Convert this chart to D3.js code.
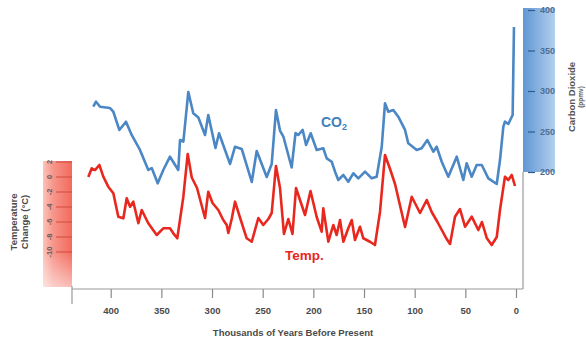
<!DOCTYPE html>
<html><head><meta charset="utf-8">
<script src="https://cdn.jsdelivr.net/npm/d3@7"></script>
<style>
html,body{margin:0;padding:0;background:#fff;}
svg{display:block;font-family:"Liberation Sans",Arial,sans-serif;}
</style></head>
<body>
<svg id="c" width="586" height="341"></svg>
<script>
// thousands of years before present, CO2 ppmv
const co2Years = [417.2,414.5,410.5,400.7,397.4,391.5,384.9,379.3,371.1,362.9,359.5,353.6,348.1,341.5,333.3,331.6,328.3,323.4,318.5,313.5,306.9,303.7,296.6,293.1,282.2,277.3,270.7,260.8,255.9,246.0,241.1,236.9,232.9,229.6,221.4,217.6,214.8,210.5,207.2,202.6,196.7,190.2,186.8,181.9,178.6,175.4,170.4,165.5,160.6,155.6,149.0,142.4,137.5,132.5,129.3,126.0,121.1,116.2,109.5,106.3,98.0,93.1,87.5,81.6,78.3,73.3,66.8,58.5,52.0,48.7,43.7,38.8,33.8,27.3,19.0,15.8,12.5,10.9,7.6,3.3,2.0];
const co2Values = [280.6,286.8,280.6,279,274.4,251.9,262.1,245.7,227.2,202.5,204.9,186,202.5,218.9,202.5,239.5,237.4,298.8,272.5,267.3,245.7,270.4,229.6,247.8,209.9,231.2,228.4,187.7,225.9,193.8,209.9,276.5,251.2,243.8,205.6,248.1,245.7,251.9,233.3,247.8,227.2,229.3,216.9,212.7,200.4,190.1,196.3,188,198.4,192.2,200.4,192.2,194.2,231.2,284.8,274.4,276.5,268.3,251.9,235.4,227.2,229.3,239.5,225.1,231.2,212.7,194.2,218.9,190.1,210.7,194.2,208.6,208.6,192.2,185.2,214.8,255.9,262.1,259.3,270.4,379];
// thousands of years before present, temperature change °C
const tempYears = [422.1,418.7,415.5,411.2,407.3,402.4,397.4,392.5,387.5,384.2,380.9,377.7,372.7,369.4,362.9,354.6,348.1,341.5,338.2,334.3,328.3,324.0,320.0,314.8,306.9,303.7,299.5,293.8,288.9,285.5,283.9,280.6,277.3,272.4,265.8,260.8,254.3,249.4,244.4,241.1,236.9,232.9,229.0,224.7,220.6,217.1,213.2,208.2,202.8,196.7,191.8,190.2,185.2,180.3,177.0,173.7,170.4,165.5,162.1,158.9,154.0,150.7,144.1,139.2,134.2,129.3,124.3,119.4,109.5,102.9,94.7,88.1,83.2,77.5,68.4,65.1,60.2,55.3,50.3,43.7,37.2,33.6,28.9,24.0,19.0,15.8,10.9,7.6,4.2,1.0];
const tempValues = [0.0,1.16,0.93,1.6,0.04,-1.29,-2.17,-5.29,-5.51,-2.84,-3.96,-3.29,-6.17,-4.4,-6.17,-7.73,-6.84,-6.84,-7.51,-8.17,-2.63,3.07,-0.07,-1.47,-5.47,-1.96,-3.47,-4.4,-5.73,-6.4,-7.47,-5.6,-3.29,-5.4,-8.17,-8.63,-5.47,-6.4,-5.6,-4.8,1.47,-1.47,-7.6,-5.6,-7.6,-1.47,-3.07,-5.07,-1.87,-5.33,-7.29,-4.17,-8.63,-6.4,-7.73,-5.73,-8.63,-6.84,-5.73,-8.4,-6.63,-8.17,-8.63,-9.07,-4.63,2.93,1.07,-0.93,-6.67,-2.63,-4.8,-3.07,-4.67,-6,-8.27,-8.93,-5.29,-4.27,-6.63,-5.29,-7.07,-6,-8.13,-9.07,-8,-4.4,0.04,-0.4,0.27,-1.2];
const yearTicks = [400,350,300,250,200,150,100,50,0];
const co2Ticks = [200,250,300,350,400];
const tempTicks = [2,0,-2,-4,-6,-8,-10];

const svg = d3.select("#c");
const x = d3.scaleLinear().domain([0,400]).range([516,110.7]);
const yC = d3.scaleLinear().domain([200,400]).range([172,10]);
const yT = d3.scaleLinear().domain([2,-10]).range([162,252]);

const defs = svg.append("defs");
const rg = defs.append("linearGradient").attr("id","rg").attr("x1",0).attr("x2",1).attr("y1",0).attr("y2",0);
rg.append("stop").attr("offset",0).attr("stop-color","#fbc4bb");
rg.append("stop").attr("offset",0.35).attr("stop-color","#f7958a");
rg.append("stop").attr("offset",1).attr("stop-color","#f26a5d");
const rv = defs.append("linearGradient").attr("id","rv").attr("x1",0).attr("x2",0).attr("y1",0).attr("y2",1);
rv.append("stop").attr("offset",0).attr("stop-color","#fff").attr("stop-opacity",0);
rv.append("stop").attr("offset",0.72).attr("stop-color","#fff").attr("stop-opacity",0);
rv.append("stop").attr("offset",1).attr("stop-color","#fff").attr("stop-opacity",0.55);
const bg = defs.append("linearGradient").attr("id","bg").attr("x1",0).attr("x2",1).attr("y1",0).attr("y2",0);
bg.append("stop").attr("offset",0).attr("stop-color","#5f97d4");
bg.append("stop").attr("offset",1).attr("stop-color","#b3cfee");

// bands
svg.append("rect").attr("x",43).attr("y",161).attr("width",29).attr("height",126).attr("fill","url(#rg)");
svg.append("rect").attr("x",43).attr("y",161).attr("width",29).attr("height",126).attr("fill","url(#rv)");
svg.append("rect").attr("x",523).attr("y",8).attr("width",32).attr("height",164).attr("fill","url(#bg)");

// frame lines
svg.append("line").attr("x1",72).attr("x2",523).attr("y1",289).attr("y2",289).attr("stroke","#9a9a9a").attr("stroke-width",1.2);
svg.append("line").attr("x1",72).attr("x2",72).attr("y1",286).attr("y2",304).attr("stroke","#9a9a9a").attr("stroke-width",1.2);
svg.append("line").attr("x1",523).attr("x2",523).attr("y1",172).attr("y2",289).attr("stroke","#9a9a9a").attr("stroke-width",1.2);

// bottom axis
const xa = svg.append("g").attr("transform","translate(0,289)")
  .call(d3.axisBottom(x).tickValues(yearTicks).tickSize(9).tickPadding(9).tickFormat(d3.format("d")));
xa.select(".domain").remove();
xa.selectAll(".tick line").attr("stroke","#8a8a8a").attr("stroke-width",1.2);
xa.selectAll(".tick text").attr("fill","#4a4a4a").attr("font-size","9.5px").attr("font-weight","bold").attr("font-family","Liberation Sans, Arial, sans-serif");
svg.append("text").attr("x",293).attr("y",336).attr("text-anchor","middle").attr("font-size","9.5px").attr("font-weight","bold").attr("fill","#4a4a4a").text("Thousands of Years Before Present");

// CO2 axis
const ca = svg.append("g").attr("transform","translate(528,0)")
  .call(d3.axisRight(yC).tickValues(co2Ticks).tickSize(7).tickPadding(5).tickFormat(d3.format("d")));
ca.select(".domain").remove();
ca.selectAll(".tick line").attr("stroke","#2f5a8c").attr("stroke-width",1.2);
ca.selectAll(".tick text").attr("fill","#4f6f93").attr("font-size","9px").attr("font-weight","bold").attr("font-family","Liberation Sans, Arial, sans-serif");
const ct = svg.append("g").attr("transform","translate(575,97) rotate(-90)");
ct.append("text").attr("text-anchor","middle").attr("font-size","9.5px").attr("font-weight","bold").attr("fill","#555").text("Carbon Dioxide");
ct.append("text").attr("y",8).attr("text-anchor","middle").attr("font-size","6.5px").attr("font-weight","bold").attr("fill","#555").text("(ppmv)");

// Temperature axis
const ta = svg.append("g");
ta.selectAll("line").data(tempTicks).join("line")
  .attr("x1",56).attr("x2",72).attr("y1",d=>yT(d)).attr("y2",d=>yT(d))
  .attr("stroke","#d24a3e").attr("stroke-width",1);
ta.selectAll("text").data(tempTicks).join("text")
  .attr("transform",d=>`translate(52,${yT(d)}) rotate(-90)`)
  .attr("text-anchor","middle").attr("font-size","7.5px").attr("font-weight","bold").attr("fill","#6a5a5a")
  .text(d=>d);
const tt = svg.append("g").attr("transform","translate(17,222) rotate(-90)");
tt.append("text").attr("text-anchor","middle").attr("font-size","9.5px").attr("font-weight","bold").attr("fill","#4a4a4a").text("Temperature");
tt.append("text").attr("y",11).attr("text-anchor","middle").attr("font-size","9.5px").attr("font-weight","bold").attr("fill","#4a4a4a").text("Change (°C)");

// lines
const co2Data = co2Years.map((d,i)=>[d,co2Values[i]]);
const tempData = tempYears.map((d,i)=>[d,tempValues[i]]);
svg.append("path").datum(co2Data).attr("fill","none").attr("stroke","#4a87c4").attr("stroke-width",2.6).attr("stroke-linejoin","round")
  .attr("d",d3.line().x(d=>x(d[0])).y(d=>yC(d[1])));
svg.append("path").datum(tempData).attr("fill","none").attr("stroke","#e8281e").attr("stroke-width",2.6).attr("stroke-linejoin","round")
  .attr("d",d3.line().x(d=>x(d[0])).y(d=>yT(d[1])));

// series labels
const cl = svg.append("text").attr("x",321).attr("y",127).attr("font-size","14px").attr("font-weight","bold").attr("fill","#3f7fc0");
cl.append("tspan").text("CO");
cl.append("tspan").attr("font-size","9px").attr("dy",3).text("2");
svg.append("text").attr("x",285).attr("y",260).attr("font-size","13.5px").attr("font-weight","bold").attr("fill","#e8281e").text("Temp.");
</script>
</body></html>
